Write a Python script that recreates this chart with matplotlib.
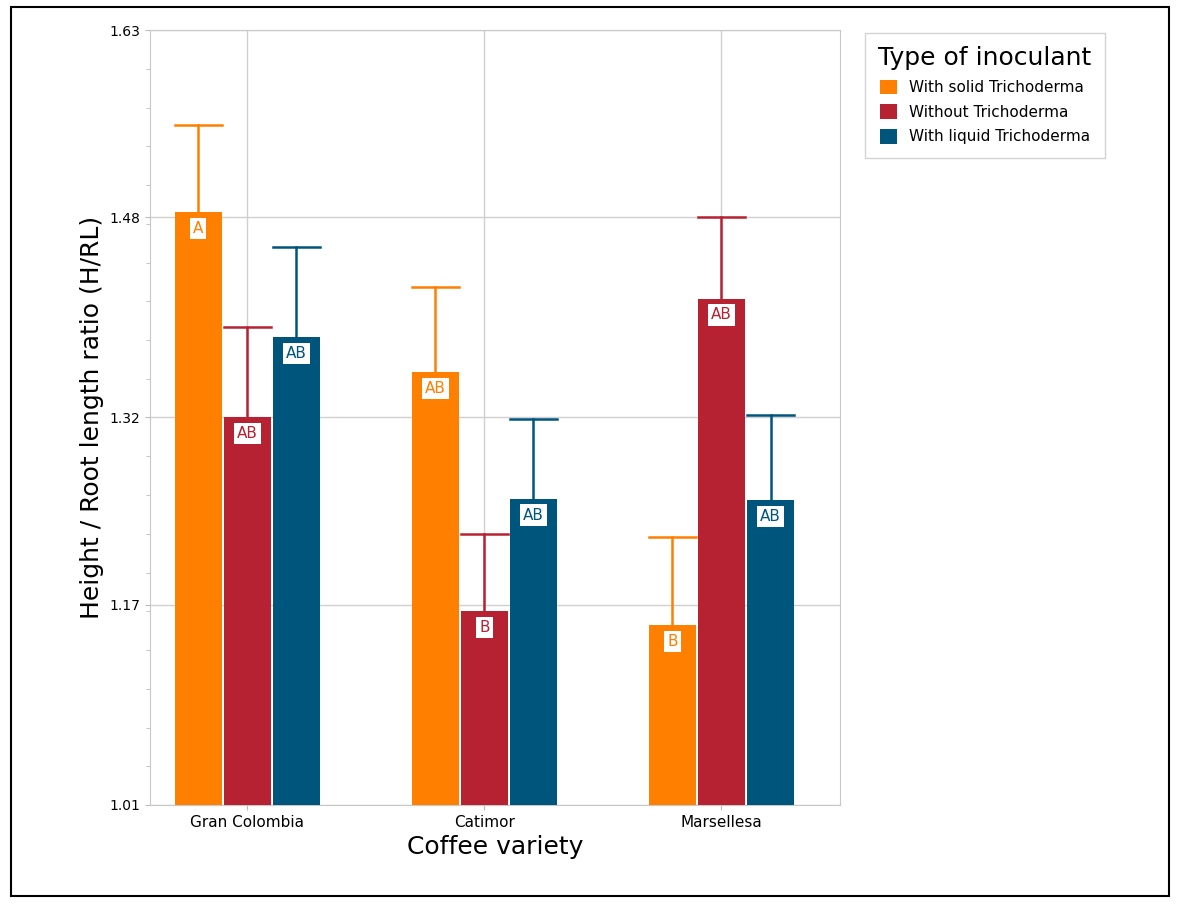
import matplotlib
matplotlib.use("Agg")
import matplotlib.pyplot as plt
from matplotlib.patches import Rectangle
import numpy as np

varieties = ["Gran Colombia", "Catimor", "Marsellesa"]
series = ["With solid Trichoderma", "Without Trichoderma", "With liquid Trichoderma"]
colors = ["#ff7f00", "#b72233", "#00557d"]
means = [[1.484, 1.356, 1.154],
         [1.320, 1.165, 1.415],
         [1.384, 1.255, 1.254]]
err_top = [[1.554, 1.424, 1.224],
           [1.392, 1.227, 1.480],
           [1.456, 1.319, 1.322]]
letters = [["A", "AB", "B"],
           ["AB", "B", "AB"],
           ["AB", "AB", "AB"]]
yticks = [1.01, 1.17, 1.32, 1.48, 1.63]

fig = plt.figure(figsize=(11.8, 9.07), dpi=100)
fig.patches.append(Rectangle((0.009, 0.012), 0.982, 0.98, transform=fig.transFigure,
                             fill=False, edgecolor="black", linewidth=1.5))
ax = fig.add_axes([150/1180, 1-805/907, 690/1180, 775/907])

x = np.arange(len(varieties))
w = 0.198
step = 0.207
for i, name in enumerate(series):
    xs = x + (i - 1) * step
    ax.bar(xs, means[i], width=w, bottom=0, color=colors[i], label=name, zorder=3)
    for j in range(len(x)):
        ax.plot([xs[j], xs[j]], [means[i][j], err_top[i][j]], color=colors[i], lw=1.8, zorder=3)
        ax.plot([xs[j] - w/2, xs[j] + w/2], [err_top[i][j]] * 2, color=colors[i], lw=1.8, zorder=3)
        ax.text(xs[j], means[i][j] - 0.013, letters[i][j], ha="center", va="center",
                color=colors[i], fontsize=11, zorder=4,
                bbox=dict(boxstyle="square,pad=0.2", fc="white", ec="none"))

ax.set_ylim(1.01, 1.63)
ax.set_xlim(-0.41, 2.5)
ax.set_yticks(yticks)
ax.set_yticklabels([f"{v:.2f}" for v in yticks], fontsize=10)
ax.set_xticks(x)
ax.set_xticklabels(varieties, fontsize=11)
ax.set_yticks(np.arange(1.01, 1.63, 0.031), minor=True)
ax.tick_params(axis="y", which="minor", length=3, color="#bbbbbb")
ax.tick_params(axis="both", which="major", color="#bbbbbb")
ax.grid(True, which="major", color="#d0d0d0", lw=1, zorder=0)
for s in ax.spines.values():
    s.set_color("#c8c8c8")
ax.set_xlabel("Coffee variety", fontsize=18)
ax.set_ylabel("Height / Root length ratio (H/RL)", fontsize=18)

leg = fig.legend(loc="upper left", bbox_to_anchor=(857/1180, 1-25/907), title="Type of inoculant",
                 fontsize=11, title_fontsize=18, frameon=True, fancybox=False,
                 edgecolor="#c8c8c8", handlelength=1.1, handleheight=1.1,
                 borderpad=0.9, labelspacing=0.6)
fig.savefig("out.png", dpi=100)
